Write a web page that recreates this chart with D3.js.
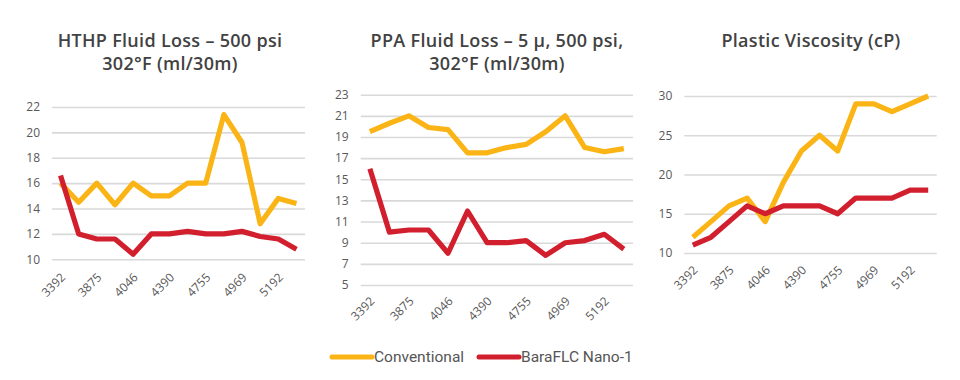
<!DOCTYPE html>
<html><head><meta charset="utf-8">
<script src="https://cdn.jsdelivr.net/npm/d3@7"></script>
<style>
html,body{margin:0;padding:0;background:#fff;}
svg{display:block;}
</style></head>
<body>
<svg id="c" width="960" height="380"></svg>
<script>
// ---- data ----
const depthLabels = ["3392","","3875","","4046","","4390","","4755","","4969","","5192",""];
const seriesNames = ["Conventional","BaraFLC Nano-1"];

const hthpConventional = [16,14.5,16,14.3,16,15,15,16,16,21.4,19.2,12.8,14.8,14.4];
const hthpNano        = [16.6,12,11.6,11.6,10.4,12,12,12.2,12,12,12.2,11.8,11.6,10.8];
const hthpTicks = [10,12,14,16,18,20,22];

const ppaConventional = [19.5,20.3,21.0,19.9,19.7,17.5,17.5,18.0,18.3,19.5,21.0,18.0,17.6,17.9];
const ppaNano         = [16.0,10.0,10.2,10.2,8.0,12.0,9.0,9.0,9.2,7.8,9.0,9.2,9.8,8.4];
const ppaTicks = [5,7,9,11,13,15,17,19,21,23];

const pvConventional = [12,14,16,17,14,19,23,25,23,29,29,28,29,30];
const pvNano         = [11,12,14,16,15,16,16,16,15,17,17,17,18,18];
const pvTicks = [10,15,20,25,30];

const titles = [
  ["HTHP Fluid Loss \u2013 500 psi","302\u00b0F (ml/30m)"],
  ["PPA Fluid Loss \u2013 5 \u03bc, 500 psi,","302\u00b0F (ml/30m)"],
  ["Plastic Viscosity (cP)"]
];

// ---- style / layout ----
const colors = ["#FBB415","#D21F2E"];
const svg = d3.select("#c");

const panels = [
  {title:titles[0], tx:170, ty:47, x0:52, x1:305, yTop:107, yBot:259.3, xlOff:18, dom:[10,22], ticks:hthpTicks, series:[hthpConventional,hthpNano]},
  {title:titles[1], tx:497, ty:47, x0:360.7, x1:633, yTop:94.7, yBot:285, xlOff:16, dom:[5,23], ticks:ppaTicks, series:[ppaConventional,ppaNano]},
  {title:titles[2], tx:811, ty:47, x0:684.3, x1:936.7, yTop:96, yBot:253, xlOff:17, dom:[10,30], ticks:pvTicks, series:[pvConventional,pvNano]}
];

panels.forEach(p => {
  const g = svg.append("g");
  const idx = d3.range(depthLabels.length);
  const x = d3.scalePoint().domain(idx).range([p.x0,p.x1]).padding(0.47);
  const y = d3.scaleLinear().domain(p.dom).range([p.yBot,p.yTop]);

  // title
  const t = g.append("text").attr("x",p.tx).attr("y",p.ty)
    .attr("text-anchor","middle").attr("fill","#424242")
    .style("font-family","'Open Sans', sans-serif").style("font-weight","600")
    .style("font-size","18px").style("letter-spacing","0.3px");
  p.title.forEach((line,i)=> t.append("tspan").attr("x",p.tx).attr("dy", i===0?0:23).text(line));

  // y axis gridlines
  const ya = d3.axisLeft(y).tickValues(p.ticks).tickSize(-(p.x1-p.x0)).tickPadding(12);
  const yg = g.append("g").attr("transform",`translate(${p.x0},0)`).call(ya);
  yg.select(".domain").remove();
  yg.selectAll(".tick line").attr("stroke","#d9d9d9").attr("stroke-width",1.6);
  yg.selectAll(".tick text").attr("fill","#595959")
    .style("font-family","'Open Sans', sans-serif").style("font-size","12px");

  // x axis
  const xa = d3.axisBottom(x).tickValues(idx.filter(i=>depthLabels[i]!=="")).tickFormat(i=>depthLabels[i]).tickSize(0);
  const xg = g.append("g").attr("transform",`translate(0,${p.yBot+p.xlOff})`).call(xa);
  xg.select(".domain").remove();
  xg.selectAll(".tick text").attr("fill","#595959")
    .style("font-family","'Open Sans', sans-serif").style("font-size","12px")
    .attr("y",0).attr("x",3).attr("text-anchor","end").attr("dy","0.35em")
    .attr("transform","rotate(-45)");

  // lines
  const line = d3.line().x((d,i)=>x(i)).y(d=>y(d));
  p.series.forEach((s,k)=>{
    g.append("path").datum(s).attr("d",line).attr("fill","none")
      .attr("stroke",colors[k]).attr("stroke-width",5.2)
      .attr("stroke-linejoin","round").attr("stroke-linecap","butt");
  });
});

// legend
const lg = svg.append("g");
const legendItems = [{x:332},{x:479}];
seriesNames.forEach((n,i)=>{
  const lx = legendItems[i].x;
  lg.append("line").attr("x1",lx).attr("x2",lx+40).attr("y1",357).attr("y2",357)
    .attr("stroke",colors[i]).attr("stroke-width",5).attr("stroke-linecap","round");
  lg.append("text").attr("x",lx+42).attr("y",362).text(n).attr("fill","#555")
    .style("font-family","Roboto, sans-serif").style("font-size","15.5px");
});
</script>
</body></html>
